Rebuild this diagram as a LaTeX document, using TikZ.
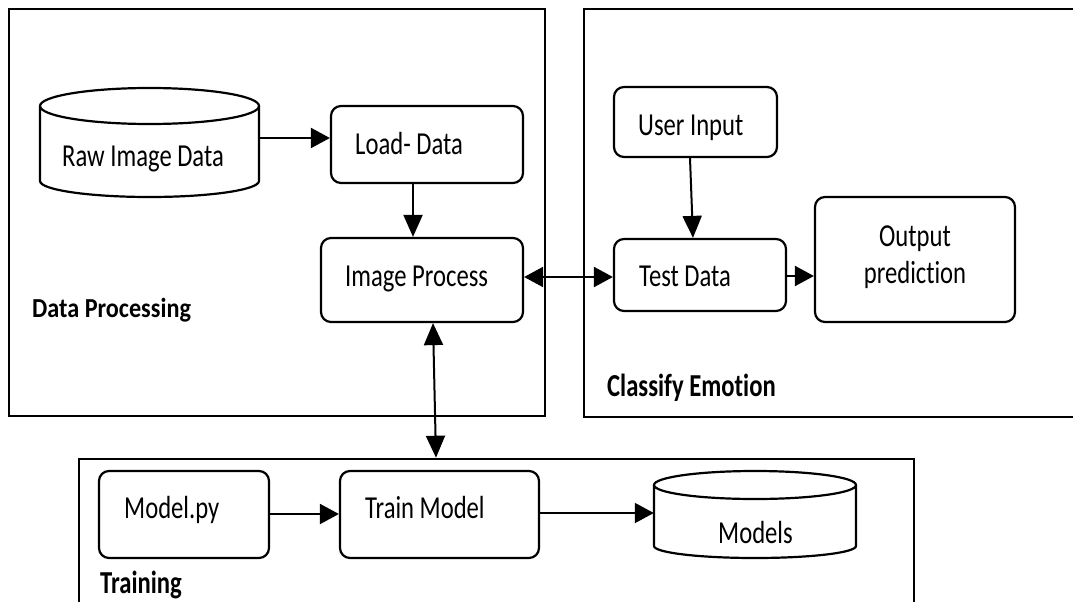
\documentclass[tikz,border=0pt]{standalone}
\usepackage{fontspec}
\setmainfont{Carlito}[Ligatures=NoCommon]
\newfontfamily\narrowfont{Carlito}[FakeStretch=0.77, Ligatures=NoCommon]
\newfontfamily\labelfont{Carlito}[FakeStretch=0.88, Ligatures=NoCommon]
\usetikzlibrary{arrows.meta,calc}
\tikzset{
  frame/.style={draw, line width=2.6pt, inner sep=0pt},
  box/.style={draw, line width=2.2pt, rounded corners=10pt, inner sep=0pt},
  drumline/.style={line width=2.2pt},
  txt/.style={anchor=base west, inner sep=0pt, font=\narrowfont\fontsize{32}{36.6}\selectfont},
  ctxt/.style={txt, anchor=base},
  grouplbl/.style={anchor=base west, inner sep=0pt, font=\narrowfont\bfseries\fontsize{32}{36}\selectfont},
  flow/.style={line width=2pt},
  harr/.style={flow, -{Triangle[length=19pt,width=20pt]}},
  varr/.style={flow, -{Triangle[length=22pt,width=19pt]}},
  hboth/.style={flow, {Triangle[length=19pt,width=20pt]}-{Triangle[length=19pt,width=20pt]}},
  vboth/.style={flow, {Triangle[length=22pt,width=19pt]}-{Triangle[length=22pt,width=19pt]}},
}
\begin{document}
\begin{tikzpicture}[x=1pt,y=1pt]
  \useasboundingbox (0,0) rectangle (1073,-602);
  \fill[white] (0,0) rectangle (1073,-602);
  \clip (0,0) rectangle (1073,-602);

  % group frames
  \node[frame, minimum width=536pt, minimum height=407pt] (dp) at (277,-212.5) {};
  \node[frame, minimum width=506pt, minimum height=408pt] (ce) at (837,-213) {};
  \node[frame, minimum width=835pt, minimum height=181pt] (tr) at (496.5,-549.5) {};

  % data processing
  \node[inner sep=0pt, minimum width=219pt, minimum height=109pt] (raw) at (149.5,-142.5) {};
  \draw[drumline] (149.5,-106) ellipse [x radius=109.5, y radius=18];
  \draw[drumline] (40,-106) -- (40,-181) arc [start angle=180, end angle=360, x radius=109.5, y radius=16] -- (259,-106);
  \node[txt] (rawtxt) at (62,-166) {Raw Image Data};

  \node[box, minimum width=192pt, minimum height=77pt] (load) at (427,-144.5) {};
  \node[txt] (loadtxt) at (355,-154) {Load- Data};

  \node[box, minimum width=202pt, minimum height=84pt] (img) at (422,-280) {};
  \node[txt] (imgtxt) at (345,-286) {Image Process};

  \node[anchor=base west, inner sep=0pt, font=\labelfont\bfseries\fontsize{27.5}{30}\selectfont] (dplbl) at (32,-317) {Data Processing};

  % classify emotion
  \node[box, minimum width=163pt, minimum height=70pt] (user) at (695.5,-122) {};
  \node[txt] (usertxt) at (638,-135) {User Input};

  \node[box, minimum width=172pt, minimum height=72pt] (test) at (700,-275) {};
  \node[txt] (testtxt) at (639,-286) {Test Data};

  \node[box, minimum width=200pt, minimum height=125pt] (out) at (915,-259.5) {};
  \node[ctxt] (outtxt1) at (915,-246.7) {Output};
  \node[ctxt] (outtxt2) at (915,-283.3) {prediction};

  \node[grouplbl] (celbl) at (607,-396.5) {Classify Emotion};

  % training
  \node[box, minimum width=170pt, minimum height=87pt] (modelpy) at (184,-514.5) {};
  \node[txt] (modelpytxt) at (124,-518) {Model.py};

  \node[box, minimum width=199pt, minimum height=87pt] (trainm) at (439.5,-514.5) {};
  \node[txt] (trainmtxt) at (365,-518) {Train Model};

  \node[inner sep=0pt, minimum width=202pt, minimum height=87pt] (models) at (755,-514.5) {};
  \draw[drumline] (755,-485) ellipse [x radius=101, y radius=14];
  \draw[drumline] (654,-485) -- (654,-546) arc [start angle=180, end angle=360, x radius=101, y radius=12] -- (856,-485);
  \node[txt] (modelstxt) at (718,-543) {Models};

  \node[grouplbl] (trlbl) at (100,-593) {Training};

  % connectors
  \draw[harr] ([yshift=4.5pt]raw.east) -- ([yshift=6.5pt]load.west);
  \draw[varr] ([xshift=-14pt]load.south) -- ([xshift=-9pt]img.north);
  \draw[hboth] ([yshift=3pt]img.east) -- ([yshift=-2pt]test.west);
  \draw[vboth] ([xshift=11pt]img.south) -- ([xshift=-60.5pt]tr.north);
  \draw[varr] ([xshift=-5.5pt]user.south) -- ([xshift=-7pt]test.north);
  \draw[harr] ([yshift=-1pt]test.east) -- ([yshift=-16.5pt]out.west);
  \draw[harr] ([yshift=0.5pt]modelpy.east) -- ([yshift=0.5pt]trainm.west);
  \draw[harr] ([yshift=1.5pt]trainm.east) -- ([yshift=1.5pt]models.west);
\end{tikzpicture}
\end{document}
